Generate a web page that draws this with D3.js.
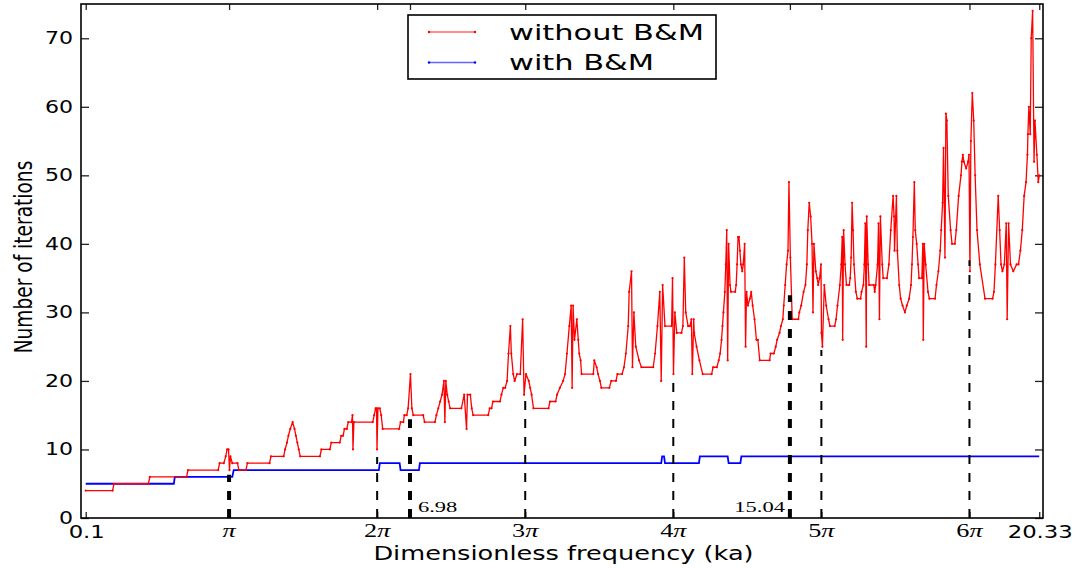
<!DOCTYPE html>
<html>
<head>
<meta charset="utf-8">
<script src="https://cdnjs.cloudflare.com/ajax/libs/d3/7.8.5/d3.min.js"></script>
<style>
  body { margin: 0; background: #ffffff; }
  svg { display: block; }
</style>
</head>
<body>
<div id="viz-container"></div>
<script>
// [frequency ka, iterations]
let withoutBM = [[0.10,4],[0.67,4],[0.70,5],[1.43,5],[1.46,6],[2.24,6],[2.27,7],[2.91,7],[2.94,8],[3.03,8],[3.07,9],[3.10,10],[3.13,10],[3.15,7],[3.17,9],[3.21,8],[3.32,8],[3.35,7],[3.50,7],[3.53,8],[4.00,8],[4.03,9],[4.30,9],[4.33,10],[4.37,11],[4.40,12],[4.44,13],[4.49,14],[4.53,13],[4.56,12],[4.59,11],[4.62,10],[4.65,9],[5.07,9],[5.10,10],[5.28,10],[5.31,11],[5.49,11],[5.52,12],[5.56,12],[5.59,13],[5.64,13],[5.67,14],[5.74,14],[5.76,15],[5.77,10],[5.79,14],[6.19,14],[6.22,15],[6.25,16],[6.27,16],[6.28,10],[6.30,16],[6.34,16],[6.37,15],[6.40,13],[6.75,13],[6.78,14],[6.84,14],[6.86,15],[6.91,15],[6.94,16],[6.99,21],[7.02,16],[7.05,15],[7.26,15],[7.29,14],[7.51,14],[7.54,15],[7.58,16],[7.62,17],[7.66,18],[7.70,20],[7.72,14],[7.74,20],[7.77,18],[7.80,17],[7.83,16],[8.07,16],[8.13,18],[8.18,13],[8.20,18],[8.26,18],[8.29,16],[8.32,15],[8.64,15],[8.67,16],[8.71,16],[8.74,17],[8.89,17],[8.92,18],[8.96,19],[9.00,19],[9.04,20],[9.07,24],[9.11,28],[9.13,24],[9.17,21],[9.20,20],[9.25,21],[9.32,21],[9.37,29],[9.40,18],[9.44,21],[9.50,20],[9.53,19],[9.56,18],[9.60,16],[9.92,16],[9.95,17],[10.07,17],[10.10,18],[10.16,19],[10.23,20],[10.27,21],[10.31,24],[10.36,28],[10.40,31],[10.42,19],[10.44,31],[10.47,26],[10.52,29],[10.55,26],[10.57,24],[10.60,23],[10.62,21],[10.87,21],[10.89,23],[10.94,22],[10.97,21],[11.01,20],[11.04,19],[11.21,19],[11.25,20],[11.35,20],[11.38,21],[11.48,21],[11.52,22],[11.56,24],[11.61,28],[11.63,33],[11.68,36],[11.70,22],[11.73,30],[11.77,25],[11.84,23],[11.89,22],[12.14,22],[12.18,24],[12.23,28],[12.28,33],[12.31,20],[12.34,34],[12.39,28],[12.53,28],[12.55,35],[12.57,21],[12.60,30],[12.64,27],[12.74,27],[12.77,28],[12.80,38],[12.83,30],[12.88,28],[12.92,28],[12.95,29],[12.97,21],[13.00,29],[13.01,27],[13.06,25],[13.12,23],[13.19,21],[13.38,21],[13.41,22],[13.49,22],[13.53,23],[13.56,24],[13.59,26],[13.61,28],[13.63,30],[13.66,33],[13.68,37],[13.70,42],[13.72,23],[13.74,40],[13.77,34],[13.79,33],[13.88,33],[13.90,34],[13.92,37],[13.94,41],[13.96,41],[13.98,39],[14.00,37],[14.03,36],[14.05,37],[14.08,40],[14.10,25],[14.12,33],[14.15,31],[14.19,32],[14.22,33],[14.25,31],[14.29,29],[14.33,26],[14.36,26],[14.40,23],[14.61,23],[14.63,24],[14.70,24],[14.74,25],[14.77,26],[14.82,27],[14.85,28],[14.89,29],[14.91,31],[14.94,34],[14.97,37],[15.00,39],[15.02,49],[15.05,38],[15.09,29],[15.22,29],[15.24,30],[15.28,31],[15.33,33],[15.37,34],[15.40,37],[15.42,42],[15.45,46],[15.48,44],[15.51,40],[15.53,30],[15.55,40],[15.59,36],[15.62,35],[15.64,34],[15.67,35],[15.70,37],[15.71,27],[15.73,25],[15.77,34],[15.81,31],[15.86,29],[15.89,28],[15.99,28],[16.02,29],[16.05,31],[16.10,34],[16.13,37],[16.15,41],[16.16,26],[16.18,42],[16.21,37],[16.24,34],[16.30,34],[16.32,35],[16.34,38],[16.36,46],[16.38,42],[16.40,37],[16.44,33],[16.47,32],[16.54,32],[16.56,33],[16.60,34],[16.62,37],[16.64,43],[16.66,25],[16.67,44],[16.70,37],[16.72,34],[16.82,34],[16.84,33],[16.86,34],[16.90,37],[16.92,43],[16.94,29],[16.96,44],[17.00,37],[17.02,35],[17.10,35],[17.14,37],[17.18,42],[17.23,47],[17.25,44],[17.26,39],[17.30,47],[17.32,39],[17.36,34],[17.39,32],[17.43,31],[17.48,30],[17.52,31],[17.57,32],[17.61,34],[17.63,37],[17.65,41],[17.68,49],[17.70,42],[17.73,40],[17.76,37],[17.78,35],[17.84,35],[17.86,40],[17.87,26],[17.89,40],[17.92,37],[17.97,33],[18.00,32],[18.12,32],[18.15,34],[18.19,36],[18.23,39],[18.25,42],[18.28,46],[18.30,54],[18.33,38],[18.35,59],[18.37,58],[18.40,47],[18.45,42],[18.48,40],[18.54,40],[18.57,42],[18.62,47],[18.67,50],[18.69,52],[18.71,53],[18.73,52],[18.78,51],[18.82,52],[18.84,53],[18.86,36],[18.88,55],[18.91,62],[18.94,58],[18.97,50],[19.01,42],[19.07,37],[19.18,32],[19.34,32],[19.37,33],[19.40,37],[19.46,47],[19.49,42],[19.52,37],[19.55,36],[19.59,37],[19.63,43],[19.65,29],[19.68,43],[19.72,37],[19.78,36],[19.85,37],[19.89,37],[19.93,39],[19.97,42],[20.01,47],[20.05,49],[20.08,53],[20.09,56],[20.11,60],[20.14,56],[20.16,70],[20.19,74],[20.22,52],[20.24,58],[20.28,53],[20.31,49],[20.33,50]];

let withBM = [[0.10,5],[1.97,5],[1.99,6],[3.21,6],[3.24,7],[6.32,7],[6.34,8],[6.76,8],[6.78,7],[7.17,7],[7.19,8],[12.31,8],[12.33,9],[12.37,9],[12.39,8],[13.11,8],[13.13,9],[13.72,9],[13.74,8],[13.99,8],[14.01,9],[20.33,9]];

let markX = [Math.PI, 2*Math.PI, 6.98, 3*Math.PI, 4*Math.PI, 15.04, 5*Math.PI, 6*Math.PI];
let markTop = [6.3, 8.9, 14.4, 17.5, 20, 32.5, 24.5, 37.6];
let markBold = [true, false, true, false, false, true, false, false];

let xTicks = [0.1, Math.PI, 2*Math.PI, 6.98, 3*Math.PI, 4*Math.PI, 15.04, 5*Math.PI, 6*Math.PI, 20.33];
let xTickLabels = ["0.1", "π", "2π", "", "3π", "4π", "", "5π", "6π", "20.33"];
let yTicks = [0, 10, 20, 30, 40, 50, 60, 70];

let w = 1084;
let h = 568;
let padL = 81, padR = 1043, padT = 4, padB = 518;
const SX = 1.3; // picture is stretched sideways

let viz = d3.select("#viz-container")
              .append("svg")
              .attr("width", w)
              .attr("height", h)
              .style("background-color", "#ffffff");

let x = d3.scaleLinear().domain([0, 20.41]).range([padL, padR]);
let y = d3.scaleLinear().domain([0, 75]).range([padB, padT]);

function label(px, py, str, size, anchor, family, sx) {
  return viz.append("text")
            .text(str)
            .attr("transform", `translate(${px},${py}) scale(${sx || SX},1)`)
            .attr("text-anchor", anchor)
            .attr("font-family", family || "DejaVu Sans")
            .attr("font-size", size)
            .attr("fill", "#000");
}

// ticks, pointing inwards on all four sides
viz.append("g").attr("transform", `translate(0,${padB})`)
   .call(d3.axisBottom(x).tickValues(xTicks).tickSizeInner(-6).tickSizeOuter(0).tickFormat(""));
viz.append("g").attr("transform", `translate(0,${padT})`)
   .call(d3.axisTop(x).tickValues(xTicks).tickSizeInner(-6).tickSizeOuter(0).tickFormat(""));
viz.append("g").attr("transform", `translate(${padL},0)`)
   .call(d3.axisLeft(y).tickValues(yTicks).tickSizeInner(-8).tickSizeOuter(0).tickFormat(""));
viz.append("g").attr("transform", `translate(${padR},0)`)
   .call(d3.axisRight(y).tickValues(yTicks).tickSizeInner(-8).tickSizeOuter(0).tickFormat(""));
viz.selectAll(".domain").remove();
viz.selectAll(".tick line").attr("stroke", "#222").attr("stroke-width", 1.3);

let line = d3.line().x(d => x(d[0])).y(d => y(d[1]));

viz.append("path")
   .datum(withBM)
   .attr("d", line)
   .attr("fill", "none")
   .attr("stroke", "#0000ff")
   .attr("stroke-width", 1.8);

viz.append("path")
   .datum(withoutBM)
   .attr("d", line)
   .attr("fill", "none")
   .attr("stroke", "#ff0000")
   .attr("stroke-width", 1.3)
   .attr("stroke-linejoin", "round");

viz.selectAll(".dot").data(withoutBM).enter().append("circle")
   .attr("class", "dot")
   .attr("cx", d => x(d[0]))
   .attr("cy", d => y(d[1]))
   .attr("r", 1.1)
   .attr("fill", "#ff0000");

// vertical marker lines
viz.selectAll(".mark").data(markX).enter().append("line")
   .attr("class", "mark")
   .attr("x1", d => x(d))
   .attr("x2", d => x(d))
   .attr("y1", y(0))
   .attr("y2", (d, i) => y(markTop[i]))
   .attr("stroke", "#000")
   .attr("stroke-width", (d, i) => markBold[i] ? 4 : 2)
   .attr("stroke-dasharray", "9,9");

// frame
viz.append("rect")
   .attr("x", padL).attr("y", padT)
   .attr("width", padR - padL).attr("height", padB - padT)
   .attr("fill", "none")
   .attr("stroke", "#000")
   .attr("stroke-width", 1.6);

// tick labels
yTicks.forEach(v => label(73, y(v) + 6, String(v), 17, "end"));

xTicks.forEach((v, i) => {
  let s = xTickLabels[i];
  if (!s) return;
  if (s.indexOf("π") < 0) {
    label(x(v) + 1, 538, s, 17.5, "middle");
  } else {
    let t = label(x(v), 537, "", 19, "middle", "Liberation Serif", 1.38);
    let k = s.replace("π", "");
    if (k) t.append("tspan").text(k);
    t.append("tspan").attr("font-style", "italic").text("π");
  }
});

label(x(6.98) + 8, 511.7, "6.98", 15, "start", "Liberation Serif", 1.5);
label(x(15.04) - 5, 511.7, "15.04", 15, "end", "Liberation Serif", 1.5);

// axis titles
label(563.5, 560, "Dimensionless frequency (ka)", 19.7, "middle");
viz.append("text")
   .text("Number of iterations")
   .attr("transform", `translate(32,257) scale(${SX},1) rotate(-90)`)
   .attr("text-anchor", "middle")
   .attr("font-family", "DejaVu Sans")
   .attr("font-size", 18.6)
   .attr("fill", "#000");

// legend
let legend = [["without B&M", "#ff0000", 32], ["with B&M", "#0000ff", 62.5]];
viz.append("rect")
   .attr("x", 408).attr("y", 15)
   .attr("width", 308).attr("height", 64)
   .attr("fill", "#fff")
   .attr("stroke", "#000")
   .attr("stroke-width", 1.6);
legend.forEach(l => {
  viz.append("line")
     .attr("x1", 429).attr("x2", 475)
     .attr("y1", l[2]).attr("y2", l[2])
     .attr("stroke", l[1]).attr("stroke-opacity", 0.6)
     .attr("stroke-width", 1.3);
  [429, 475].forEach(px => viz.append("circle")
     .attr("cx", px).attr("cy", l[2]).attr("r", 1.2).attr("fill", l[1]));
  label(509, l[2] + 7.5, l[0], 21, "start", "DejaVu Sans", 1.45);
});
</script>
</body>
</html>
